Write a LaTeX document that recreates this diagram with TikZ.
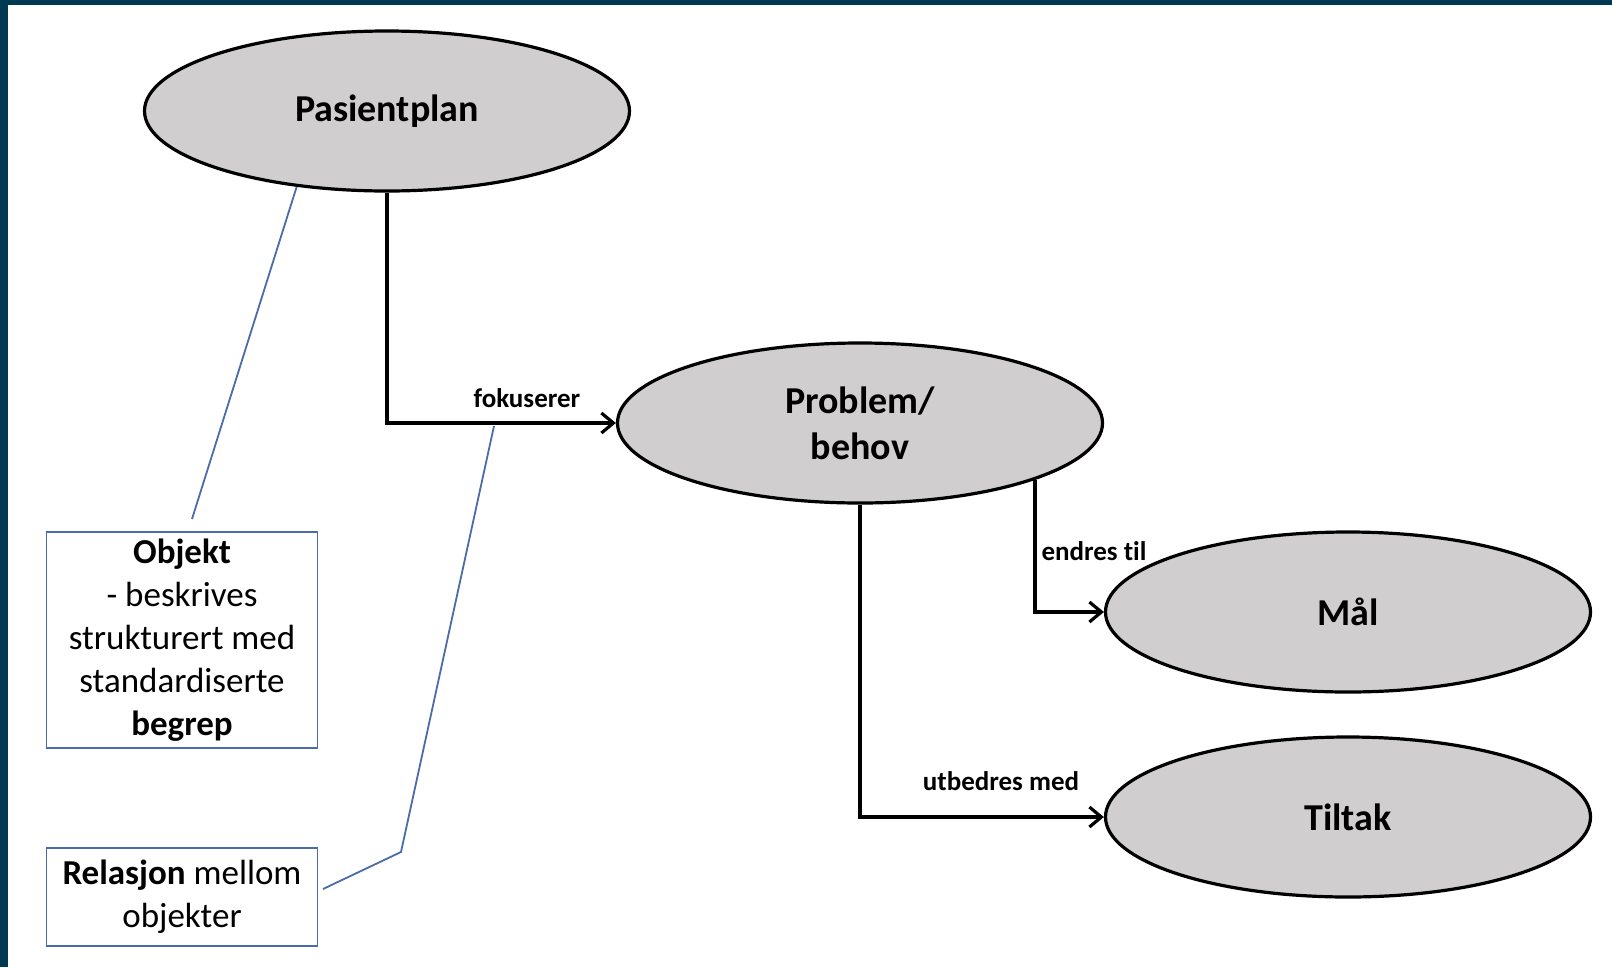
\documentclass[tikz,border=0pt]{standalone}
\usepackage{fontspec}
\setmainfont{Carlito}[Ligatures=NoCommon]
\usetikzlibrary{arrows.meta,shapes.geometric}
\definecolor{ramme}{RGB}{0,58,82}
\definecolor{grafylt}{RGB}{208,206,207}
\definecolor{notelinje}{RGB}{74,108,168}

\begin{document}
\begin{tikzpicture}
  [x=1pt,y=-1pt,
   every node/.style={inner sep=0pt},
   klasse/.style={ellipse,draw,line width=3.2pt,fill=grafylt,minimum width=485pt,
     minimum height=160pt,align=center,font=\fontsize{38}{46}\selectfont\bfseries},
   notat/.style={rectangle,draw=notelinje,line width=1.8pt,minimum width=271pt,
     align=center,font=\fontsize{35}{43}\selectfont},
   rel/.style={font=\fontsize{27}{30}\selectfont\bfseries},
   pil/.style={draw,line width=3.2pt,-{Straight Barb[length=12pt,width=20pt]}},
   merk/.style={draw=notelinje,line width=1.8pt}]

  % ramme
  \fill[ramme] (0,0) rectangle (1612,967);
  \fill[white] (8,5) rectangle (1612,967);

  \node (plan) [klasse] at (387,111) {Pasientplan};
  \node (prob) [klasse] at (860,423) {Problem/\\behov};
  \node (maal) [klasse] at (1348,612) {Mål};
  \node (tiltak) [klasse] at (1348,817) {Tiltak};

  \node (objekt) [notat,minimum height=216pt] at (182,640)
    {\textbf{Objekt}\\- beskrives\\strukturert med\\standardiserte\\\textbf{begrep}};
  \node (relasjon) [notat,minimum height=98pt] at (182,897)
    {\textbf{Relasjon} mellom\\objekter};

  \node (lfok) [rel] at (527,398) {fokuserer};
  \node (lend) [rel] at (1094,551) {endres til};
  \node (lutb) [rel] at (1001,781) {utbedres med};

  \draw[pil] (plan.south) |- (prob.west);
  \draw[pil] (prob.-18.5) |- (maal.west);
  \draw[pil] (prob.south) |- (tiltak.west);

  % forklaringslinjer
  \coordinate (n1) at (192,519);
  \coordinate (n2a) at (494,426);
  \coordinate (n2b) at (401,852);
  \coordinate (n2c) at (323,889);
  \draw[merk] (plan.220) -- (n1);
  \draw[merk] (n2a) -- (n2b) -- (n2c);

\end{tikzpicture}
\end{document}
